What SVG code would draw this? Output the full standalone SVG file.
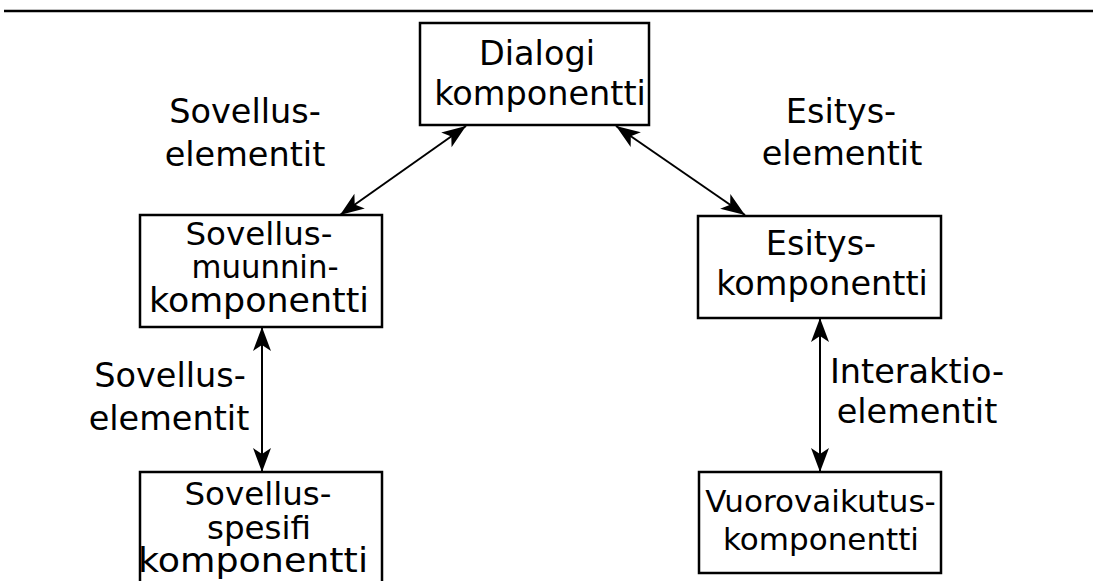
<svg xmlns="http://www.w3.org/2000/svg" width="1093" height="581" viewBox="0 0 1093 581">
  <style>
    .box { fill: #ffffff; stroke: #000000; stroke-width: 2.5; }
    .lbl { font-family: "DejaVu Sans", sans-serif; font-size: 33.5px; fill: #000000; text-anchor: middle; }
    .mid { font-size: 32.5px; }
    .tight { font-size: 31px; }
    .edge { stroke: #000000; stroke-width: 2; fill: none; marker-start: url(#tip); marker-end: url(#tip); }
  </style>
  <defs>
    <marker id="tip" viewBox="-25 -10 27 20" refX="0" refY="0" markerWidth="27" markerHeight="20" markerUnits="userSpaceOnUse" orient="auto-start-reverse">
      <path d="M0,0 L-24,-9 L-18,0 L-24,9 Z" fill="#000000"/>
    </marker>
  </defs>

  <!-- top rule -->
  <line x1="4" y1="11" x2="1093" y2="11" stroke="#000000" stroke-width="2.5"/>

  <!-- connectors -->
  <g id="connectors">
    <line class="edge" x1="466" y1="126" x2="340" y2="215"/>
    <line class="edge" x1="616" y1="126" x2="745" y2="215"/>
    <line class="edge" x1="262" y1="327" x2="262" y2="472"/>
    <line class="edge" x1="820" y1="318" x2="820" y2="472"/>
  </g>

  <!-- edge labels -->
  <g id="edge-labels">
    <text class="lbl" x="245" y="123">Sovellus-</text>
    <text class="lbl" x="245" y="166">elementit</text>
    <text class="lbl" x="841" y="123">Esitys-</text>
    <text class="lbl" x="842" y="165">elementit</text>
    <text class="lbl" x="170" y="387">Sovellus-</text>
    <text class="lbl" x="169" y="430">elementit</text>
    <text class="lbl" x="917" y="383">Interaktio-</text>
    <text class="lbl" x="917" y="423">elementit</text>
  </g>

  <g id="dialogi">
    <rect class="box" x="420" y="23" width="229" height="102"/>
    <text class="lbl" x="537" y="65">Dialogi</text>
    <text class="lbl" x="540" y="105">komponentti</text>
  </g>

  <g id="sovellus-muunnin">
    <rect class="box" x="140" y="215" width="242" height="112"/>
    <text class="lbl mid" x="259" y="245">Sovellus-</text>
    <text class="lbl mid" x="265" y="278" textLength="147" lengthAdjust="spacingAndGlyphs">muunnin-</text>
    <text class="lbl" x="259" y="312" textLength="220" lengthAdjust="spacingAndGlyphs">komponentti</text>
  </g>

  <g id="esitys">
    <rect class="box" x="698" y="216" width="243" height="102"/>
    <text class="lbl" x="821" y="255">Esitys-</text>
    <text class="lbl" x="822" y="295">komponentti</text>
  </g>

  <g id="sovellus-spesifi">
    <rect class="box" x="140" y="472" width="242" height="120"/>
    <text class="lbl mid" x="258" y="505">Sovellus-</text>
    <text class="lbl mid" x="259" y="539">spesifi</text>
    <text class="lbl" x="253" y="572" textLength="230" lengthAdjust="spacingAndGlyphs">komponentti</text>
  </g>

  <g id="vuorovaikutus">
    <rect class="box" x="699" y="472" width="242" height="101"/>
    <text class="lbl tight" x="820.5" y="512">Vuorovaikutus-</text>
    <text class="lbl tight" x="821" y="550">komponentti</text>
  </g>
</svg>
